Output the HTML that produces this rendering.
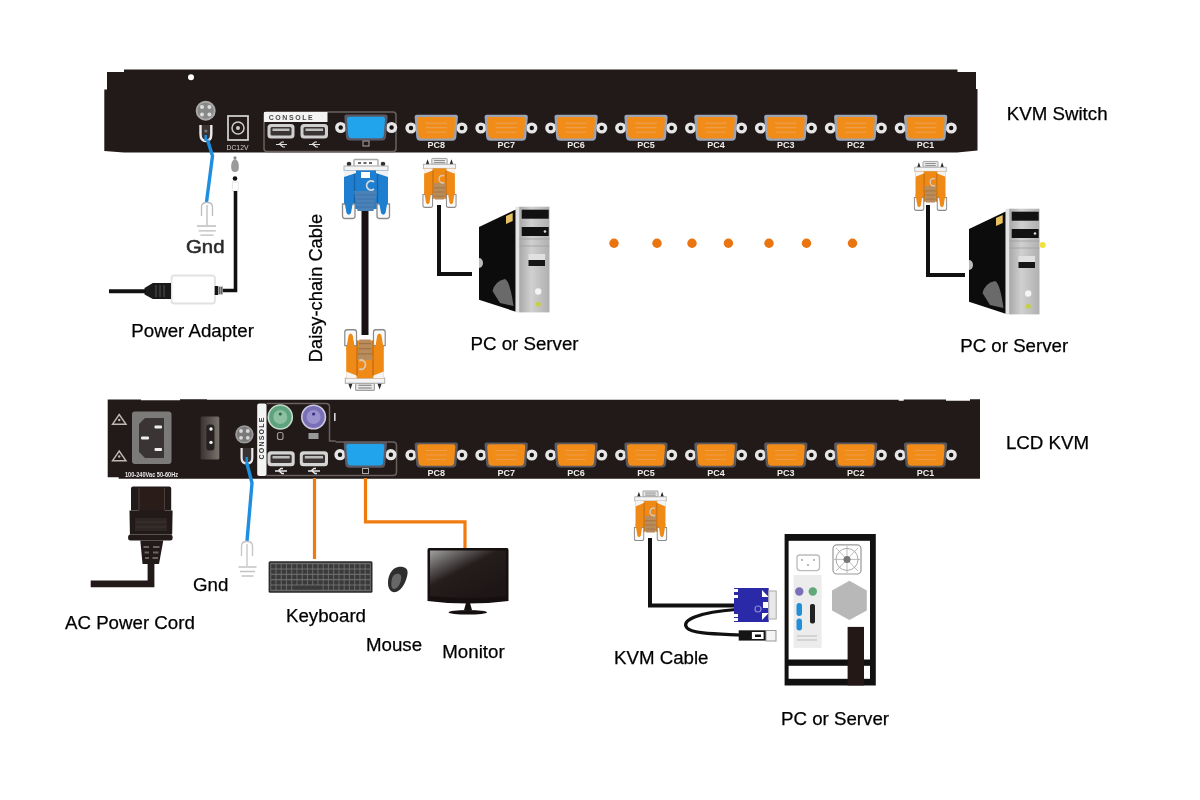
<!DOCTYPE html>
<html><head><meta charset="utf-8">
<style>
html,body{margin:0;padding:0;background:#fff;width:1200px;height:800px;overflow:hidden}
svg{display:block;will-change:transform}
text{font-family:"Liberation Sans",sans-serif}
</style></head>
<body>
<svg width="1200" height="800" viewBox="0 0 1200 800">
<defs>
  <!-- VGA female port on panel, centered at 0,0 -->
  <g id="port">
    <circle cx="-25.3" cy="0.3" r="5.6" fill="#e6e6e6"/>
    <circle cx="-25.3" cy="0.3" r="2.2" fill="#151010"/>
    <circle cx="25.6" cy="0.3" r="5.6" fill="#e6e6e6"/>
    <circle cx="25.6" cy="0.3" r="2.2" fill="#151010"/>
    <path d="M-19.5,-13 H19.5 Q21.8,-13 21.6,-10.5 L20,9.5 Q19.5,13 16,13 H-16 Q-19.5,13 -20,9.5 L-21.6,-10.5 Q-21.8,-13 -19.5,-13 Z" fill="#9aa4b4"/>
    <path d="M-16.5,-10.8 H16.5 Q19.2,-10.8 19,-8 L17.8,7.5 Q17.4,10.8 14.5,10.8 H-14.5 Q-17.4,10.8 -17.8,7.5 L-19,-8 Q-19.2,-10.8 -16.5,-10.8 Z" fill="#f28c18"/>
    <path d="M-11,-4.5 H11 M-10.5,0 H10.5 M-10,4.5 H10" stroke="#e8a868" stroke-width="1" opacity="0.8"/>
  </g>
  <g id="port2">
    <circle cx="-25.3" cy="0" r="5.6" fill="#e6e6e6"/>
    <circle cx="-25.3" cy="0" r="2.2" fill="#151010"/>
    <circle cx="25.6" cy="0" r="5.6" fill="#e6e6e6"/>
    <circle cx="25.6" cy="0" r="2.2" fill="#151010"/>
    <path d="M-19.5,-12.5 H19.5 Q21.8,-12.5 21.6,-10 L20,9.5 Q19.5,12.5 16,12.5 H-16 Q-19.5,12.5 -20,9.5 L-21.6,-10 Q-21.8,-12.5 -19.5,-12.5 Z" fill="#5a5a60"/>
    <path d="M-16.5,-10.8 H16.5 Q19.2,-10.8 19,-8 L17.8,7.5 Q17.4,10.8 14.5,10.8 H-14.5 Q-17.4,10.8 -17.8,7.5 L-19,-8 Q-19.2,-10.8 -16.5,-10.8 Z" fill="#f28c18"/>
    <path d="M-11,-4.5 H11 M-10.5,0 H10.5 M-10,4.5 H10" stroke="#e8a868" stroke-width="1" opacity="0.6"/>
  </g>
  <g id="portblue">
    <circle cx="-25.3" cy="0" r="5.6" fill="#e6e6e6"/>
    <circle cx="-25.3" cy="0" r="2.2" fill="#151010"/>
    <circle cx="25.6" cy="0" r="5.6" fill="#e6e6e6"/>
    <circle cx="25.6" cy="0" r="2.2" fill="#151010"/>
    <path d="M-19.5,-13 H19.5 Q21.8,-13 21.6,-10.5 L20,9.5 Q19.5,13 16,13 H-16 Q-19.5,13 -20,9.5 L-21.6,-10.5 Q-21.8,-13 -19.5,-13 Z" fill="#5a5a66"/>
    <path d="M-16.5,-10.8 H16.5 Q19.2,-10.8 19,-8 L17.8,7.5 Q17.4,10.8 14.5,10.8 H-14.5 Q-17.4,10.8 -17.8,7.5 L-19,-8 Q-19.2,-10.8 -16.5,-10.8 Z" fill="#22a4ec"/>
  </g>
  <!-- VGA plug top view, origin top-center, 48 wide x 60 tall -->
  <g id="plugB">
    <rect x="-12" y="0.5" width="24" height="7" rx="1" fill="#fff" stroke="#a8a8a8" stroke-width="1.4"/>
    <g fill="#666"><rect x="-8" y="3" width="3" height="2"/><rect x="-2.5" y="3" width="3" height="2"/><rect x="3" y="3" width="3" height="2"/></g>
    <circle cx="-17" cy="5" r="2.3" fill="#333"/>
    <circle cx="17" cy="5" r="2.3" fill="#333"/>
    <rect x="-22" y="7" width="44" height="4.5" fill="#f4f4f4" stroke="#b0b0b0" stroke-width="1"/>
    <path d="M-22,11.5 H22 V50 H-22 Z" fill="#1e7fd0"/>
    <path d="M-22,11.5 H-10 V14 L-22,18 Z M22,11.5 H10 V14 L22,18 Z" fill="#f2f2f2"/>
    <path d="M-11.5,15 V47 M11.5,15 V47" stroke="#1462a8" stroke-width="1.3"/>
    <rect x="-5" y="13" width="9" height="6" fill="#fff"/>
    <path d="M8,23 A4.5,4.5 0 1 0 8,30" fill="none" stroke="#d8d8d8" stroke-width="1.8"/>
    <path d="M-12,32 H11 L7.5,52 H-8.5 Z" fill="#4a82b8"/>
    <path d="M-11,36 H10 M-10.5,40 H9.5 M-10,44 H9 M-9.5,48 H8.5" stroke="#3a70a8" stroke-width="0.8"/>
    <path d="M-23.5,45 V57 Q-23.5,59.5 -21,59.5 H-13.5 Q-11,59.5 -11,57 V45 Z" fill="#fafafa" stroke="#8a8a8a" stroke-width="1.3"/>
    <path d="M11,45 V57 Q11,59.5 13.5,59.5 H21 Q23.5,59.5 23.5,57 V45 Z" fill="#fafafa" stroke="#8a8a8a" stroke-width="1.3"/>
    <path d="M-22,40 H-12.5 L-15,54 Q-17.25,57.5 -19.5,54 Z M22,40 H12.5 L15,54 Q17.25,57.5 19.5,54 Z" fill="#1e7fd0"/>
  </g>
  <g id="plugO">
    <rect x="-10" y="0.5" width="20" height="7" rx="1" fill="#e8e8e8" stroke="#a0a0a0" stroke-width="1.2"/>
    <path d="M-7,3 H7 M-7,5.5 H7" stroke="#777" stroke-width="1"/>
    <path d="M-18,8 L-15.5,1.5 L-13,8 Z M18,8 L15.5,1.5 L13,8 Z" fill="#2a2a2a"/>
    <rect x="-21" y="7.5" width="42" height="5" fill="#f4f4f4" stroke="#a8a8a8" stroke-width="1"/>
    <path d="M-20,12.5 H20 V49 H-20 Z" fill="#f08a16"/>
    <path d="M-20,12.5 H-9 V15 L-20,19 Z M20,12.5 H9 V15 L20,19 Z" fill="#f4f4f4"/>
    <path d="M-8.5,15 V49 M8.5,15 V49" stroke="#c06a10" stroke-width="1.3"/>
    <path d="M-8,30 H8 L6,50 H-6 Z" fill="#b88c5c"/>
    <path d="M-7.5,36 H7.5 M-7,41 H7 M-6.5,46 H6.5" stroke="#9a6c3c" stroke-width="0.9"/>
    <path d="M6,21.5 A4.5,4.5 0 1 0 6,29.5" fill="none" stroke="#d8c8b8" stroke-width="1.8"/>
    <path d="M-21.5,44 V57 Q-21.5,59.5 -19,59.5 H-11.5 Q-9,59.5 -9,57 V44 Z" fill="#fafafa" stroke="#8a8a8a" stroke-width="1.3"/>
    <path d="M9,44 V57 Q9,59.5 11.5,59.5 H19 Q21.5,59.5 21.5,57 V44 Z" fill="#fafafa" stroke="#8a8a8a" stroke-width="1.3"/>
    <path d="M-20,40 H-10.5 L-13,54 Q-15.25,57.5 -17.5,54 Z M20,40 H10.5 L13,54 Q15.25,57.5 17.5,54 Z" fill="#f08a16"/>
  </g>
  <!-- PC tower, coords absolute for tower 1 -->
  <linearGradient id="twg" x1="0" x2="1"><stop offset="0" stop-color="#a8a8a8"/><stop offset="0.4" stop-color="#d0d0d0"/><stop offset="1" stop-color="#b0b0b0"/></linearGradient>
  <g id="tower">
    <path d="M479,227 L515.7,209.5 V311.7 L479,299.7 Z" fill="#0c0c0c"/>
    <path d="M492.5,291 Q495,281 505,279 Q510,281 513.5,306 L500,303 Z" fill="#6a6a6a"/>
    <path d="M506,216 L512.7,213 V221 L506,224 Z" fill="#e8c060"/>
    <path d="M479,258 A4,5 0 0 1 479,268 Z" fill="#bbb"/>
    <rect x="515.7" y="206.7" width="3.5" height="105.7" fill="#e4e4e4"/>
    <rect x="519.2" y="206.7" width="30.3" height="105.7" fill="url(#twg)"/>
    <path d="M519.2,239 H549.5 M519.2,246 H549.5" stroke="#a0a0a0" stroke-width="0.8"/>
    <rect x="521.7" y="209.7" width="27" height="9" fill="#111"/>
    <rect x="521.7" y="227" width="27" height="9" fill="#111"/>
    <circle cx="545" cy="231.5" r="1.3" fill="#ddd"/>
    <rect x="528.5" y="254" width="16.5" height="6" fill="#e0e0e0"/>
    <rect x="528.5" y="260" width="16.5" height="6" fill="#161616"/>
    <circle cx="538.2" cy="291.5" r="3.2" fill="#f4f4f4"/>
    <circle cx="538.2" cy="304.2" r="2.5" fill="#c8d040"/>
  </g>
</defs>

<!-- ================= KVM SWITCH (top bar) ================= -->
<path d="M124,69.5 H957.5 V72 H976 V89 H977.5 V150.5 L957,152.5 H124 L104.3,151 V89.5 H107 V72 H124 Z" fill="#221a18"/>
<circle cx="191" cy="77.3" r="3" fill="#fff"/>
<!-- ground screw -->
<circle cx="205.7" cy="110.7" r="10" fill="#a8a8a8"/>
<circle cx="205.7" cy="110.7" r="8" fill="#888"/>
<g fill="#ddd"><circle cx="202" cy="107" r="2"/><circle cx="209.4" cy="107" r="2"/><circle cx="202" cy="114.4" r="2"/><circle cx="209.4" cy="114.4" r="2"/></g>
<path d="M200.5,125 V134 Q200.5,141 205.9,141 Q211.3,141 211.3,134 V125" fill="#3a3434" stroke="#ececec" stroke-width="2.4"/>
<path d="M205.7,135 V141" stroke="#1e8fe0" stroke-width="2.5"/><circle cx="205.9" cy="131" r="1.6" fill="#777"/>
<!-- DC12V -->
<rect x="228" y="116" width="20" height="24" fill="none" stroke="#ccc" stroke-width="1.8"/>
<circle cx="238" cy="128" r="6" fill="none" stroke="#ccc" stroke-width="1.5"/>
<circle cx="238" cy="128" r="2" fill="#ccc"/>
<text x="226.5" y="150.3" font-size="7.5" fill="#d0d0d0" textLength="22" lengthAdjust="spacingAndGlyphs">DC12V</text>
<!-- console box -->
<rect x="264" y="112" width="132" height="39.5" rx="3" fill="none" stroke="#6a625e" stroke-width="1.5"/>
<rect x="264" y="112" width="63.5" height="10" fill="#f4f4f4"/>
<text x="268.7" y="120.3" font-size="7" font-weight="bold" fill="#4a4a4a" textLength="44" lengthAdjust="spacing">CONSOLE</text>
<rect x="267.5" y="124" width="27" height="14.5" rx="3.5" fill="#cfcfcf"/>
<rect x="270.5" y="127" width="21" height="8.5" rx="1.5" fill="#3a3434"/>
<rect x="272.5" y="128.5" width="17" height="2.5" fill="#bdbdbd"/>
<rect x="300.5" y="124" width="27.5" height="14.5" rx="3.5" fill="#cfcfcf"/>
<rect x="303.5" y="127" width="21.5" height="8.5" rx="1.5" fill="#3a3434"/>
<rect x="305.5" y="128.5" width="17.5" height="2.5" fill="#bdbdbd"/>
<g stroke="#e0e0e0" stroke-width="1.2" fill="none"><path d="M276,144.5 H287 M279,144.5 L282,142 H284 M280,144.5 L283,147 H285"/><path d="M309,144.5 H320 M312,144.5 L315,142 H317 M313,144.5 L316,147 H318"/></g>
<use href="#portblue" x="366" y="127.5"/>
<rect x="363" y="141" width="6" height="5" fill="none" stroke="#aaa" stroke-width="1"/>

<!-- ports top -->
<g>
<use href="#port" x="436.3" y="127.7"/>
<use href="#port" x="506.2" y="127.7"/>
<use href="#port" x="576.1" y="127.7"/>
<use href="#port" x="646" y="127.7"/>
<use href="#port" x="715.9" y="127.7"/>
<use href="#port" x="785.8" y="127.7"/>
<use href="#port" x="855.7" y="127.7"/>
<use href="#port" x="925.6" y="127.7"/>
</g>
<g font-size="9" font-weight="bold" fill="#ececec" text-anchor="middle"><text x="436.3" y="148.2">PC8</text><text x="506.2" y="148.2">PC7</text><text x="576.1" y="148.2">PC6</text><text x="646" y="148.2">PC5</text><text x="715.9" y="148.2">PC4</text><text x="785.8" y="148.2">PC3</text><text x="855.7" y="148.2">PC2</text><text x="925.6" y="148.2">PC1</text></g>

<!-- ================= LCD KVM (bottom bar) ================= -->
<path d="M107.7,399.5 H141 V400.3 H180 V399.3 H207 V399.8 H898.7 V400.8 H903.7 V399.5 H946 V400.8 H970 V399.3 H980 V478.7 H118.7 V477.2 H107.7 Z" fill="#221a18"/>


<!-- top left: ground wire + symbol -->
<path d="M207.6,140 L212.5,156 L206.5,202" fill="none" stroke="#1e8fe0" stroke-width="3.4"/>
<g fill="none" stroke="#bcbcbc" stroke-width="1.3">
<path d="M201.5,216 V207 Q201.5,202.5 207,202.5 Q212.5,202.5 212.5,207 V216"/>
<path d="M207,205 V225"/>
<path d="M197,226 H216 M198.7,230.8 H215.8 M200.4,235.2 H213.6"/>
</g>
<!-- DC plug and cable -->
<circle cx="235" cy="157.8" r="1.6" fill="#8a8a8a"/>
<path d="M235,159 C238.5,160 239,165 238.8,168 C238.5,171 237,172 235,172 C233,172 231.5,171 231.2,168 C231,165 231.5,160 235,159 Z" fill="#9a9a9a"/>
<circle cx="235" cy="178.5" r="2.3" fill="#111"/>
<rect x="232.3" y="182" width="5.8" height="9" fill="#fff" stroke="#e0e0e0" stroke-width="0.8"/>
<path d="M235.5,191 V290.5 H222" fill="none" stroke="#111" stroke-width="3.6"/>
<rect x="171.5" y="275.5" width="43.5" height="28" rx="3" fill="#fff" stroke="#e2e2e2" stroke-width="1.8"/>
<rect x="214.7" y="286" width="3.5" height="9" fill="#151515"/>
<rect x="218.2" y="286.5" width="4.7" height="8" fill="#9a9a9a"/>
<path d="M219.5,287 V294 M221.5,287 V294" stroke="#555" stroke-width="0.8"/>
<path d="M144.5,288 L152.8,283 H171 V299 H152.8 L144.5,294.5 Z" fill="#1a1a1a"/>
<path d="M156,285 V297 M160,285 V297 M164,285 V297" stroke="#4a4a4a" stroke-width="1.2"/>
<path d="M109,291.3 H146" stroke="#111" stroke-width="4"/>
<!-- daisy chain -->
<rect x="361.5" y="210" width="7" height="125" fill="#1a1212"/>
<use href="#plugB" transform="translate(366,159)"/>
<use href="#plugO" transform="translate(365,391) rotate(180) scale(0.94,1.03)"/>
<!-- PC8 plug + cable + tower -->
<path d="M439,205 V274 H472" fill="none" stroke="#111" stroke-width="4"/>
<use href="#plugO" transform="translate(439.5,158) scale(0.77,0.83)"/>
<use href="#tower"/>
<!-- dots -->
<g fill="#ea7410">
<circle cx="614" cy="243.3" r="4.7"/><circle cx="657" cy="243.3" r="4.7"/><circle cx="692" cy="243.3" r="4.7"/><circle cx="728.4" cy="243.3" r="4.7"/><circle cx="769" cy="243.3" r="4.7"/><circle cx="806.5" cy="243.3" r="4.7"/><circle cx="852.5" cy="243.3" r="4.7"/>
</g>
<!-- PC1 plug + cable + tower2 -->
<path d="M928,205 V275 H965" fill="none" stroke="#111" stroke-width="4"/>
<use href="#plugO" transform="translate(930.5,161) scale(0.75,0.83)"/>
<use href="#tower" transform="translate(490,2)"/>
<circle cx="1042.7" cy="245" r="3" fill="#f0e040"/>

<!-- LCD bar details -->
<g fill="none" stroke="#bdb8b4" stroke-width="1.4">
<path d="M119.2,414.5 L126,424.3 H112.5 Z"/>
<path d="M119.2,451 L126,460.8 H112.5 Z"/>
</g>
<g fill="#bdb8b4"><circle cx="119.2" cy="420" r="1.2"/><circle cx="119.2" cy="456.5" r="1.2"/></g>
<rect x="132" y="411.5" width="39.5" height="52.5" rx="3" fill="#7c7a78"/>
<path d="M145,418 H164 V458 H145 L139,452 V424 Z" fill="#3a3434"/>
<g fill="#f0f0f0"><rect x="154.5" y="425.5" width="7.5" height="3" rx="1"/><rect x="141" y="436.5" width="8" height="3" rx="1"/><rect x="154.5" y="448" width="7.5" height="3" rx="1"/></g>
<text x="125" y="476.5" font-size="6.6" font-weight="bold" fill="#e8e8e8" textLength="53" lengthAdjust="spacingAndGlyphs">100-240Vac  50-60Hz</text>
<defs><linearGradient id="swg" x1="0" x2="1"><stop offset="0" stop-color="#3a3232"/><stop offset="1" stop-color="#77736c"/></linearGradient></defs>
<rect x="200.6" y="416.4" width="18.7" height="43" rx="1.5" fill="url(#swg)"/>
<rect x="206.3" y="424.5" width="8.1" height="26" rx="3" fill="#262020"/>
<circle cx="211" cy="429" r="1.7" fill="#f4f4f4"/><circle cx="211" cy="442.4" r="1.7" fill="#f4f4f4"/>
<!-- ground screw -->
<circle cx="244.4" cy="434.4" r="9.2" fill="#999"/>
<circle cx="244.4" cy="434.4" r="7.4" fill="#7a7a7a"/>
<g fill="#d8d8d8"><circle cx="241" cy="431" r="1.9"/><circle cx="247.8" cy="431" r="1.9"/><circle cx="241" cy="437.8" r="1.9"/><circle cx="247.8" cy="437.8" r="1.9"/></g>
<path d="M241.6,448 V458 Q241.6,463.5 247,463.5 Q252.3,463.5 252.3,458 V448" fill="#3a3434" stroke="#e8e8e8" stroke-width="2.2"/>
<path d="M246.8,457 V464" stroke="#1e8fe0" stroke-width="2.5"/>
<!-- console -->
<path d="M266.5,403.6 H326 Q329.5,403.6 329.5,407 V441 H335.7" fill="none" stroke="#6a625e" stroke-width="1.5"/>
<path d="M335.5,442 H393 Q396.5,442 396.5,445.5 V472 Q396.5,475.5 393,475.5 H266.5" fill="none" stroke="#6a625e" stroke-width="1.5"/>
<rect x="257.2" y="403.6" width="9.3" height="72.4" rx="2" fill="#f4f4f4"/>
<text transform="translate(264.3,459.5) rotate(-90)" font-size="7" font-weight="bold" fill="#333" letter-spacing="1.2">CONSOLE</text>
<circle cx="280.3" cy="417" r="12" fill="#5ea27e" stroke="#c4dccb" stroke-width="1.6"/>
<circle cx="280.3" cy="417" r="7" fill="#8cc0a0"/>
<circle cx="280.3" cy="414" r="1.6" fill="#2a6a40"/>
<circle cx="313.6" cy="417" r="11.8" fill="#7a70b8" stroke="#ccc8e0" stroke-width="1.6"/>
<circle cx="313.6" cy="417" r="7" fill="#9a92cc"/>
<circle cx="313.6" cy="414" r="1.6" fill="#3a3080"/>
<rect x="277.5" y="432.5" width="5.5" height="7" rx="2" fill="none" stroke="#999" stroke-width="1.2"/>
<rect x="308.5" y="433" width="10" height="6" fill="#999"/>
<g>
<rect x="267.5" y="451.3" width="27.2" height="15" rx="3.5" fill="#d4d4d4"/>
<rect x="270.5" y="454.5" width="21.2" height="8.5" rx="1.5" fill="#3a3434"/>
<rect x="272.5" y="456" width="17.2" height="2.5" fill="#bdbdbd"/>
<rect x="299.8" y="451.3" width="28.2" height="15" rx="3.5" fill="#d4d4d4"/>
<rect x="302.8" y="454.5" width="22.2" height="8.5" rx="1.5" fill="#3a3434"/>
<rect x="304.8" y="456" width="18.2" height="2.5" fill="#bdbdbd"/>
</g>
<g stroke="#e8e8e8" stroke-width="1.4" fill="none"><path d="M275,471 H287 M278,471 L281,468.5 H283 M279,471 L282,473.5 H284"/><path d="M308,471 H320 M311,471 L314,468.5 H316 M312,471 L315,473.5 H317"/></g>
<use href="#portblue" x="365.3" y="454.7"/>
<rect x="362.5" y="468.5" width="6" height="5" fill="none" stroke="#aaa" stroke-width="1"/>
<g>
<use href="#port2" x="436.3" y="455"/>
<use href="#port2" x="506.2" y="455"/>
<use href="#port2" x="576.1" y="455"/>
<use href="#port2" x="646" y="455"/>
<use href="#port2" x="715.9" y="455"/>
<use href="#port2" x="785.8" y="455"/>
<use href="#port2" x="855.7" y="455"/>
<use href="#port2" x="925.6" y="455"/>
</g>
<g font-size="9" font-weight="bold" fill="#ececec" text-anchor="middle"><text x="436.3" y="476">PC8</text><text x="506.2" y="476">PC7</text><text x="576.1" y="476">PC6</text><text x="646" y="476">PC5</text><text x="715.9" y="476">PC4</text><text x="785.8" y="476">PC3</text><text x="855.7" y="476">PC2</text><text x="925.6" y="476">PC1</text></g>

<rect x="334" y="413" width="1.6" height="8" fill="#d8d8d8"/>
<!-- AC power cord -->
<path d="M133,486.5 H169.2 Q171.2,486.5 171.2,488.5 V510.5 H131 V488.5 Q131,486.5 133,486.5 Z" fill="#221a18"/>
<path d="M139,488 V512 H164.5 V488" fill="#2a1c18" stroke="#4a3e3a" stroke-width="1"/>
<path d="M129.5,510.5 H172.6 L172.2,534.6 H129.9 Z" fill="#221a18"/>
<rect x="135" y="518" width="32" height="13" fill="#2e2624"/>
<path d="M136,522 H166 M136,527 H166" stroke="#3e3432" stroke-width="1.2"/>
<rect x="128.1" y="534.6" width="44.5" height="5.8" rx="2.5" fill="#221a18"/>
<path d="M140.3,540.4 H163.3 L159,564 H142.5 Z" fill="#221a18"/>
<g stroke="#6a6462" stroke-width="1.8"><path d="M143.5,547 H149 M153,547 H159.5 M144.5,552.5 H149 M153,552.5 H158.5 M145,558 H149 M152.5,558 H158"/></g>
<path d="M151,563 V583.8 H90.7" fill="none" stroke="#221a18" stroke-width="6.8"/>
<!-- bottom ground wire -->
<path d="M246.8,463 L252,483 L247,541" fill="none" stroke="#1e8fe0" stroke-width="3.4"/>
<g fill="none" stroke="#c4c4c4" stroke-width="1.3">
<path d="M241.5,556 V546 Q241.5,541.5 247,541.5 Q252.5,541.5 252.5,546 V556"/>
<path d="M247,544 V566"/>
<path d="M238.5,567 H256.5 M240,571.5 H255 M241.5,576 H253.5"/>
</g>
<!-- orange cables -->
<path d="M314.5,478 V559" fill="none" stroke="#f07c10" stroke-width="3.2"/>
<path d="M365.5,478 V521.8 H465 V549" fill="none" stroke="#f07c10" stroke-width="3.2"/>
<!-- keyboard -->
<rect x="268.6" y="561.2" width="103.9" height="31.6" rx="1.5" fill="#2a2a2a"/>
<rect x="270.2" y="562.8" width="100.7" height="28.4" fill="#6a6a6a"/>
<g fill="#3a3a3a"><rect x="271.20" y="564.2" width="4.25" height="4.2" rx="0.6"/><rect x="276.45" y="564.2" width="4.25" height="4.2" rx="0.6"/><rect x="281.69" y="564.2" width="4.25" height="4.2" rx="0.6"/><rect x="286.94" y="564.2" width="4.25" height="4.2" rx="0.6"/><rect x="292.19" y="564.2" width="4.25" height="4.2" rx="0.6"/><rect x="297.44" y="564.2" width="4.25" height="4.2" rx="0.6"/><rect x="302.68" y="564.2" width="4.25" height="4.2" rx="0.6"/><rect x="307.93" y="564.2" width="4.25" height="4.2" rx="0.6"/><rect x="313.18" y="564.2" width="4.25" height="4.2" rx="0.6"/><rect x="318.43" y="564.2" width="4.25" height="4.2" rx="0.6"/><rect x="323.67" y="564.2" width="4.25" height="4.2" rx="0.6"/><rect x="328.92" y="564.2" width="4.25" height="4.2" rx="0.6"/><rect x="334.17" y="564.2" width="4.25" height="4.2" rx="0.6"/><rect x="339.42" y="564.2" width="4.25" height="4.2" rx="0.6"/><rect x="344.66" y="564.2" width="4.25" height="4.2" rx="0.6"/><rect x="349.91" y="564.2" width="4.25" height="4.2" rx="0.6"/><rect x="355.16" y="564.2" width="4.25" height="4.2" rx="0.6"/><rect x="360.41" y="564.2" width="4.25" height="4.2" rx="0.6"/><rect x="365.65" y="564.2" width="4.25" height="4.2" rx="0.6"/><rect x="271.20" y="569.6" width="4.25" height="4.2" rx="0.6"/><rect x="276.45" y="569.6" width="4.25" height="4.2" rx="0.6"/><rect x="281.69" y="569.6" width="4.25" height="4.2" rx="0.6"/><rect x="286.94" y="569.6" width="4.25" height="4.2" rx="0.6"/><rect x="292.19" y="569.6" width="4.25" height="4.2" rx="0.6"/><rect x="297.44" y="569.6" width="4.25" height="4.2" rx="0.6"/><rect x="302.68" y="569.6" width="4.25" height="4.2" rx="0.6"/><rect x="307.93" y="569.6" width="4.25" height="4.2" rx="0.6"/><rect x="313.18" y="569.6" width="4.25" height="4.2" rx="0.6"/><rect x="318.43" y="569.6" width="4.25" height="4.2" rx="0.6"/><rect x="323.67" y="569.6" width="4.25" height="4.2" rx="0.6"/><rect x="328.92" y="569.6" width="4.25" height="4.2" rx="0.6"/><rect x="334.17" y="569.6" width="4.25" height="4.2" rx="0.6"/><rect x="339.42" y="569.6" width="4.25" height="4.2" rx="0.6"/><rect x="344.66" y="569.6" width="4.25" height="4.2" rx="0.6"/><rect x="349.91" y="569.6" width="4.25" height="4.2" rx="0.6"/><rect x="355.16" y="569.6" width="4.25" height="4.2" rx="0.6"/><rect x="360.41" y="569.6" width="4.25" height="4.2" rx="0.6"/><rect x="365.65" y="569.6" width="4.25" height="4.2" rx="0.6"/><rect x="271.20" y="574.9" width="4.25" height="4.2" rx="0.6"/><rect x="276.45" y="574.9" width="4.25" height="4.2" rx="0.6"/><rect x="281.69" y="574.9" width="4.25" height="4.2" rx="0.6"/><rect x="286.94" y="574.9" width="4.25" height="4.2" rx="0.6"/><rect x="292.19" y="574.9" width="4.25" height="4.2" rx="0.6"/><rect x="297.44" y="574.9" width="4.25" height="4.2" rx="0.6"/><rect x="302.68" y="574.9" width="4.25" height="4.2" rx="0.6"/><rect x="307.93" y="574.9" width="4.25" height="4.2" rx="0.6"/><rect x="313.18" y="574.9" width="4.25" height="4.2" rx="0.6"/><rect x="318.43" y="574.9" width="4.25" height="4.2" rx="0.6"/><rect x="323.67" y="574.9" width="4.25" height="4.2" rx="0.6"/><rect x="328.92" y="574.9" width="4.25" height="4.2" rx="0.6"/><rect x="334.17" y="574.9" width="4.25" height="4.2" rx="0.6"/><rect x="339.42" y="574.9" width="4.25" height="4.2" rx="0.6"/><rect x="344.66" y="574.9" width="4.25" height="4.2" rx="0.6"/><rect x="349.91" y="574.9" width="4.25" height="4.2" rx="0.6"/><rect x="355.16" y="574.9" width="4.25" height="4.2" rx="0.6"/><rect x="360.41" y="574.9" width="4.25" height="4.2" rx="0.6"/><rect x="365.65" y="574.9" width="4.25" height="4.2" rx="0.6"/><rect x="271.20" y="580.2" width="4.25" height="4.2" rx="0.6"/><rect x="276.45" y="580.2" width="4.25" height="4.2" rx="0.6"/><rect x="281.69" y="580.2" width="4.25" height="4.2" rx="0.6"/><rect x="286.94" y="580.2" width="4.25" height="4.2" rx="0.6"/><rect x="292.19" y="580.2" width="4.25" height="4.2" rx="0.6"/><rect x="297.44" y="580.2" width="4.25" height="4.2" rx="0.6"/><rect x="302.68" y="580.2" width="4.25" height="4.2" rx="0.6"/><rect x="307.93" y="580.2" width="4.25" height="4.2" rx="0.6"/><rect x="313.18" y="580.2" width="4.25" height="4.2" rx="0.6"/><rect x="318.43" y="580.2" width="4.25" height="4.2" rx="0.6"/><rect x="323.67" y="580.2" width="4.25" height="4.2" rx="0.6"/><rect x="328.92" y="580.2" width="4.25" height="4.2" rx="0.6"/><rect x="334.17" y="580.2" width="4.25" height="4.2" rx="0.6"/><rect x="339.42" y="580.2" width="4.25" height="4.2" rx="0.6"/><rect x="344.66" y="580.2" width="4.25" height="4.2" rx="0.6"/><rect x="349.91" y="580.2" width="4.25" height="4.2" rx="0.6"/><rect x="355.16" y="580.2" width="4.25" height="4.2" rx="0.6"/><rect x="360.41" y="580.2" width="4.25" height="4.2" rx="0.6"/><rect x="365.65" y="580.2" width="4.25" height="4.2" rx="0.6"/><rect x="271.20" y="585.6" width="4.25" height="4.2" rx="0.6"/><rect x="276.45" y="585.6" width="4.25" height="4.2" rx="0.6"/><rect x="281.69" y="585.6" width="4.25" height="4.2" rx="0.6"/><rect x="286.94" y="585.6" width="4.25" height="4.2" rx="0.6"/><rect x="292.19" y="585.6" width="30.48" height="4.2" rx="0.6"/><rect x="323.67" y="585.6" width="4.25" height="4.2" rx="0.6"/><rect x="328.92" y="585.6" width="4.25" height="4.2" rx="0.6"/><rect x="334.17" y="585.6" width="4.25" height="4.2" rx="0.6"/><rect x="339.42" y="585.6" width="4.25" height="4.2" rx="0.6"/><rect x="344.66" y="585.6" width="4.25" height="4.2" rx="0.6"/><rect x="349.91" y="585.6" width="4.25" height="4.2" rx="0.6"/><rect x="355.16" y="585.6" width="4.25" height="4.2" rx="0.6"/><rect x="360.41" y="585.6" width="4.25" height="4.2" rx="0.6"/><rect x="365.65" y="585.6" width="4.25" height="4.2" rx="0.6"/></g>
<!-- mouse -->
<path d="M398,567 C404,566 408.5,568.5 407.5,574 C406.5,581 402,590.5 396,592 C391,593 388,589 388,583 C388,575 392,568 398,567 Z" fill="#2e2e2e"/>
<path d="M396,574 C400,573 402,575 401,580 C400,585 397,589 394,589 C391.5,589 391,585 391.5,581 C392,577 393.5,574.5 396,574 Z" fill="#808080" opacity="0.7"/>
<!-- monitor -->
<defs><linearGradient id="mong" x1="0" y1="0" x2="0.75" y2="0.9"><stop offset="0" stop-color="#a0a0a0"/><stop offset="0.3" stop-color="#555050"/><stop offset="0.5" stop-color="#251c1c"/><stop offset="1" stop-color="#1e1616"/></linearGradient></defs>
<path d="M429,548 H507 Q508.5,548 508.5,550 V601 Q468,606 427.5,601 V550 Q427.5,548 429,548 Z" fill="#150f0f"/>
<path d="M430,550.5 H506 V596 Q468,600 430,596 Z" fill="url(#mong)"/>
<path d="M466,603 L464,610 H472 L470,603 Z" fill="#150f0f"/>
<ellipse cx="467.8" cy="612.3" rx="19.3" ry="2.3" fill="#150f0f"/>
<!-- KVM cable -->
<path d="M650,538 V605.5 H736" fill="none" stroke="#111" stroke-width="4"/>
<use href="#plugO" transform="translate(650.5,490.5) scale(0.75,0.84)"/>
<path d="M736,609.5 C700,612 680,620 687,628 C692,634 720,634 740,635" fill="none" stroke="#111" stroke-width="3.2"/>
<path d="M734,588 H768.7 V622 H734 Z" fill="#2a2aa8"/>
<g fill="#fff"><rect x="734" y="589" width="4" height="3"/><rect x="734" y="595" width="4" height="3"/><rect x="734" y="614" width="4" height="3"/><rect x="734" y="618" width="4" height="3"/></g>
<path d="M762,590 L768.7,597 H762 Z M762,620 L768.7,613 H762 Z" fill="#fff"/>
<rect x="763" y="602" width="5" height="6" fill="#fff"/>
<circle cx="758" cy="609" r="3" fill="none" stroke="#8a8ad8" stroke-width="1.2"/>
<rect x="768.7" y="591" width="7.5" height="28" fill="#e8e8e8" stroke="#aaa" stroke-width="1"/>
<path d="M738.7,630.3 H766 V640.6 H738.7 Z" fill="#151515"/>
<rect x="751.9" y="632" width="11.7" height="7" fill="#fff"/>
<rect x="755" y="634.5" width="6" height="2.5" fill="#111"/>
<rect x="766" y="630.5" width="10" height="10.5" fill="#f4f4f4" stroke="#999" stroke-width="1"/>
<!-- PC back -->
<path d="M784.6,534 H875.8 V685.4 H784.6 Z" fill="#111"/>
<rect x="788.6" y="540.8" width="81.4" height="118.7" fill="#fff"/>
<rect x="788.6" y="665.8" width="81.4" height="13" fill="#fff"/>
<rect x="847.6" y="626.9" width="16.4" height="58.5" fill="#231816"/>
<rect x="797" y="555" width="22.5" height="15.6" rx="3" fill="none" stroke="#bbb" stroke-width="1.3"/>
<g fill="#999"><circle cx="802" cy="560" r="0.9"/><circle cx="814" cy="560" r="0.9"/><circle cx="808" cy="565" r="0.9"/></g>
<rect x="833" y="544.8" width="28" height="29.2" rx="4" fill="none" stroke="#999" stroke-width="1.2"/>
<circle cx="847" cy="559.4" r="11" fill="none" stroke="#aaa" stroke-width="1"/>
<path d="M836,548 L858,571 M858,548 L836,571 M847,546 V573 M834,559.4 H860" stroke="#aaa" stroke-width="0.8"/>
<circle cx="847" cy="559.4" r="3.5" fill="#777"/>
<path d="M849.4,580.8 L866.8,590.5 V610.5 L849.4,620 L832,610.5 V590.5 Z" fill="#b8b8b8"/>
<rect x="793.6" y="575" width="28" height="73" fill="#ececec"/>
<circle cx="799.3" cy="591.5" r="4.2" fill="#7a70b8"/>
<circle cx="812.8" cy="591.5" r="4.2" fill="#60a878"/>
<rect x="796.5" y="603" width="5.5" height="13" rx="2.7" fill="#2090d8"/>
<rect x="796.5" y="618.5" width="5.5" height="12" rx="2.7" fill="#2090d8"/>
<rect x="810" y="604" width="5" height="19.5" rx="2" fill="#222"/>
<g stroke="#bbb" stroke-width="1"><path d="M797,636 H817 M797,640 H817"/></g>
<!-- labels -->
<g font-size="18.7" fill="#000" stroke="#000" stroke-width="0.25">
<text x="1006.8" y="120">KVM Switch</text>
<text x="1005.9" y="449.3">LCD KVM</text>
<text x="470.5" y="350.3">PC or Server</text>
<text x="960.2" y="351.7">PC or Server</text>
<text x="781" y="724.85">PC or Server</text>
<text x="131.3" y="336.7">Power Adapter</text>
<text x="186" y="253.5" fill="#2a2a2a" transform="translate(186,0) scale(1.1,1) translate(-186,0)" font-size="18.5" stroke="#2a2a2a" stroke-width="0.55">Gnd</text>
<text x="193" y="591">Gnd</text>
<text x="65" y="629.4">AC Power Cord</text>
<text x="286" y="621.75">Keyboard</text>
<text x="366" y="650.5">Mouse</text>
<text x="442.3" y="657.5">Monitor</text>
<text x="614" y="663.75">KVM Cable</text>
<text transform="translate(321.8,362.2) rotate(-90)" font-size="18.3">Daisy-chain Cable</text>
</g>
</svg>
</body></html>
